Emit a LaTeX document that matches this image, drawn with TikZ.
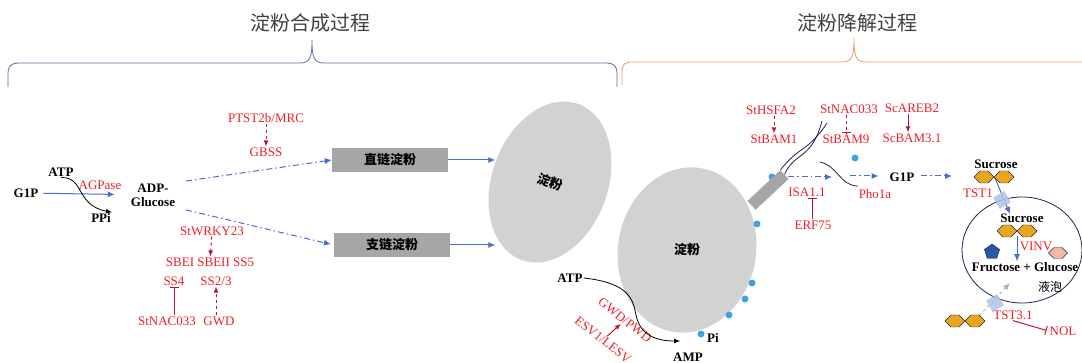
\documentclass[tikz,border=0pt]{standalone}
\usepackage{fontspec}
\setmainfont{Liberation Serif}
\newfontfamily\cjk{Noto Sans CJK SC}
\usetikzlibrary{positioning, shapes, arrows.meta}
\usetikzlibrary{backgrounds}

\definecolor{capblue}{RGB}{90,110,160}
\definecolor{capora}{RGB}{240,150,100}
\definecolor{labred}{RGB}{240,30,40}
\definecolor{arrred}{RGB}{190,20,50}
\definecolor{flowblue}{RGB}{70,110,210}
\definecolor{boxgray}{RGB}{166,166,166}
\definecolor{starch}{RGB}{210,210,210}
\definecolor{dotblue}{RGB}{60,165,225}
\definecolor{navy}{RGB}{30,35,80}
\definecolor{sugar}{RGB}{232,165,30}
\definecolor{pent}{RGB}{45,85,165}
\definecolor{salmon}{RGB}{240,185,160}
\definecolor{carrierblue}{RGB}{175,195,230}

\begin{document}
\begin{tikzpicture}[x=1pt, y=-1pt,
        lab/.style={text=labred, font=\fontsize{13}{14}\selectfont, inner sep=1pt},
        met/.style={font=\fontsize{13}{14}\selectfont\bfseries, inner sep=1pt},
        chainbox/.style={fill=boxgray, minimum width=116, minimum height=24, font=\cjk\bfseries\fontsize{13}{14}\selectfont},
        granule/.style={ellipse, fill=starch, font=\cjk\bfseries\fontsize{13}{14}\selectfont},
        flow/.style={flowblue, line width=1pt, -{Latex[length=7pt,width=6pt]}},
        dflow/.style={flow, dash pattern=on 6pt off 3pt on 1.5pt off 3pt},
        act/.style={arrred, line width=1pt, -{Latex[length=6pt,width=5pt]}},
        inh/.style={arrred, line width=1pt, -{Bar[width=9pt]}},
        sug/.style={signal, signal to=west and east, draw=navy, fill=sugar, minimum width=20, minimum height=12, inner sep=0pt},
        carrier/.style={fill=carrierblue, opacity=0.85, minimum size=13, inner sep=0pt, rotate=30}]
    \useasboundingbox (0,0) rectangle (1082,363);

    % braces and headings
    \node[font=\cjk\fontsize{20}{22}\selectfont, text=black!75] (ttlA) at (310,23) {淀粉合成过程};
    \node[font=\cjk\fontsize{20}{22}\selectfont, text=black!75] (ttlB) at (857,23) {淀粉降解过程};
    \draw[capblue, thick] (8,87) -- (8,75) .. controls (8,66) and (10,63) .. (20,63) -- (300,63)
        .. controls (310,63) and (312,58) .. (312,40) .. controls (312,58) and (314,63) .. (324,63)
        -- (605,63) .. controls (615,63) and (617,66) .. (617,75) -- (617,87);
    \draw[capora, thick] (622,85) -- (622,73) .. controls (622,64) and (624,62) .. (634,62) -- (842,62)
        .. controls (852,62) and (854,57) .. (854,38) .. controls (854,57) and (856,62) .. (866,62)
        -- (1090,62);

    % synthesis
    \node[met] (g1p) at (26,193) {G1P};
    \node[met] (atpL) at (61,172) {ATP};
    \node[met] (ppi) at (101,218) {PPi};
    \node[lab] (agp) at (100,185) {AGPase};
    \node[met, align=center] (adp) at (153,195) {ADP-\\Glucose};
    \node[lab] (ptst) at (266,118) {PTST2b/MRC};
    \node[lab] (gbss) at (266,152) {GBSS};
    \node[chainbox] (amy) at (390,160) {直链淀粉};
    \node[chainbox] (apec) at (392,245) {支链淀粉};
    \node[lab] (wrky) at (212,231) {StWRKY23};
    \node[lab] (sbe) at (210,262) {SBEI SBEII SS5};
    \node[lab] (ss4) at (174,281) {SS4};
    \node[lab] (ss23) at (216,281) {SS2/3};
    \node[lab] (nacA) at (167,321) {StNAC033};
    \node[lab] (gwdA) at (219,321) {GWD};
    \node[granule, minimum width=116, minimum height=166, rotate=-20] (granA) at (550,182) {淀粉};

    \draw[flow, shorten <=4pt, shorten >=15pt] (g1p) -- (adp);
    \draw[black, thick, -{Latex[length=6pt,width=5pt]}] (atpL.south) .. controls (85,177) and (75,205) .. (ppi.north east);
    \draw[dflow, shorten <=10pt] (adp.north east) -- (amy.west);
    \draw[dflow, shorten <=10pt, shorten >=3pt] (adp.south east) -- (apec.west);
    \draw[flow] (amy.east) -- (amy.east -| granA.west);
    \draw[flow] (apec.east) -- (apec.east -| granA.west);
    \draw[act, dashed] (ptst) -- (gbss);
    \draw[act, dashed] (wrky) -- (sbe);
    \draw[inh] (ss4 |- nacA.north) -- (ss4);
    \draw[act, dashed] (ss23 |- gwdA.north) -- (ss23);

    % degradation
    \node[granule, minimum width=138, minimum height=166, rotate=-10] (granB) at (687,250) {};
    \node[font=\cjk\bfseries\fontsize{13}{14}\selectfont] (granBtxt) at (granB) {淀粉};
    \fill[dotblue] (772,177) circle (3.5);
    \fill[dotblue] (757,224) circle (3.5);
    \fill[dotblue] (752,283) circle (3.5);
    \fill[dotblue] (745,299) circle (3.5);
    \fill[dotblue] (729,315) circle (3.5);
    \fill[dotblue] (701,334) circle (3.5);
    \fill[dotblue] (855,158) circle (3.5);

    \node[met] (atpR) at (570,278) {ATP};
    \node[met] (ampR) at (688,357) {AMP};
    \node[met] (piR) at (713,338) {Pi};
    \node[lab, rotate=-38] (gwdP) at (625,320) {GWD/PWD};
    \node[lab, rotate=-38] (esv) at (603,340) {ESV1/LESV};
    \coordinate (ampIn) at (680,341);
    \draw[black, thick, -{Latex[length=6pt,width=5pt]}] (atpR.east) .. controls (630,283) and (633,300) .. (636,315)
        .. controls (640,335) and (656,341) .. (ampIn);
    \draw[act] (esv) -- (gwdP);

    \node[fill=boxgray, rotate=43, minimum width=45, minimum height=12, inner sep=0pt] (deb) at (768,190) {};
    \draw[navy, thick] (deb.east) .. controls (794,152) and (812,160) .. (822,121);
    \draw[navy, thick] (deb.north east) .. controls (800,145) and (808,152) .. (827,123);
    \draw[navy, thick] (820,162) .. controls (838,166) and (840,186) .. (858,186);

    \node[lab] (hsf) at (771,110) {StHSFA2};
    \node[lab] (bam1) at (774,139) {StBAM1};
    \node[lab] (nacB) at (849,109) {StNAC033};
    \node[lab] (bam9) at (846,139) {StBAM9};
    \node[lab] (areb) at (912,108) {ScAREB2};
    \node[lab] (bam31) at (912,138) {ScBAM3.1};
    \node[lab] (isa) at (807,192) {ISA1.1};
    \node[lab] (erf) at (813,225) {ERF75};
    \node[lab] (pho) at (875,194) {Pho1a};
    \node[met] (g1pR) at (902,177) {G1P};
    \draw[act, dashed] (hsf.south -| bam1) -- (bam1);
    \draw[inh, dashed] (nacB.south -| bam9) -- (bam9);
    \draw[act] (areb.south -| 908,0) -- (bam31.north -| 908,0);
    \draw[inh] (erf.north -| 812,0) -- (isa.south -| 812,0);

    \coordinate (isaS) at (788,177);
    \coordinate (isaE) at (832,177);
    \coordinate (phoS) at (850,176);
    \coordinate (sucIn) at (952,176);
    \draw[dflow] (isaS) -- (isaE);
    \draw[dflow, shorten >=10pt] (phoS) -- (g1pR.west |- phoS);
    \draw[dflow, shorten <=6pt] (g1pR.east |- sucIn) -- (sucIn);

    % vacuole
    \node[draw=navy, thick, ellipse, minimum width=120, minimum height=106] (vac) at (1022,250) {};
    \node[met] (sucT) at (996,164) {Sucrose};
    \node[lab] (tst1) at (978,193) {TST1};
    \node[met] (sucV) at (1022,218) {Sucrose};
    \node[lab] (vinv) at (1036,246) {VINV};
    \node[met] (fg) at (1025,267) {Fructose + Glucose};
    \node[font=\cjk\fontsize{12}{13}\selectfont] (vacL) at (1050,287) {液泡};
    \node[lab] (tst3) at (1013,315) {TST3.1};
    \node[lab] (nol) at (1063,331) {NOL};

    \coordinate (tst1In) at (1010,214);
    \coordinate (tst3In) at (1010,283);
    \draw[flow] (995,178) -- (tst1In);
    \draw[gray!60, line width=1pt, dashed, -{Latex[length=7pt,width=6pt]}] (975,320) -- (tst3In);
    \draw[flow] (1017,236) -- (fg.north -| 1017,0);
    \draw[inh, shorten >=2pt] (tst3.south) -- (nol.west);

    \node[sug] (hxA) at (984,177) {};
    \node[sug] (hxB) at (1004,177) {};
    \node[sug] (hxC) at (1007,231) {};
    \node[sug] (hxD) at (1027,231) {};
    \node[sug] (hxE) at (955,321) {};
    \node[sug] (hxF) at (975,321) {};
    \node[sug, fill=salmon, minimum width=19, minimum height=11] (hxG) at (1058,253) {};
    \node[regular polygon, regular polygon sides=5, draw=navy, fill=pent, minimum size=16, inner sep=0pt] (fru) at (992,252) {};
    \node[carrier] (carA) at (1002,200) {};
    \node[carrier] (carB) at (995,303) {};
\end{tikzpicture}
\end{document}
